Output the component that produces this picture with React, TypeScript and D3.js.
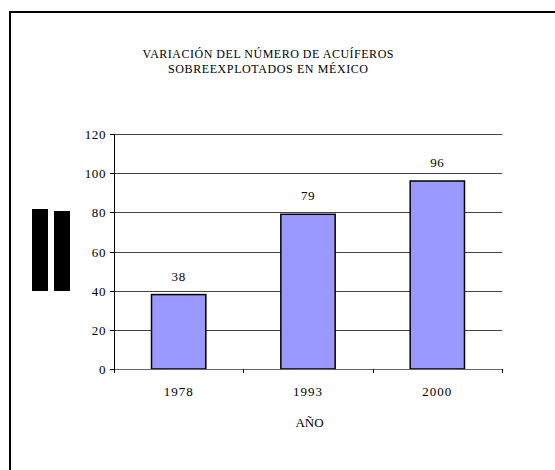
import React from "react";
import * as d3 from "d3";

const categories = ["1978", "1993", "2000"];
const values = [38, 79, 96];
const yTicks = [0, 20, 40, 60, 80, 100, 120];
const titleLines = ["VARIACIÓN DEL NÚMERO DE ACUÍFEROS", "SOBREEXPLOTADOS EN MÉXICO"];
const xTitle = "AÑO";

export default function App() {
  const W = 555, H = 470;
  const left = 114, right = 502, top = 134, bottom = 369;
  const x = d3.scaleBand().domain(categories).range([left, right]).paddingInner(0.58).paddingOuter(0.29);
  const xb = d3.scaleBand().domain(categories).range([left, right]);
  const y = d3.scaleLinear().domain([0, 120]).range([bottom, top]);
  const font = "'Liberation Serif', 'Times New Roman', 'DejaVu Serif', serif";
  const ts = { fontFamily: font, fontWeight: 400 } as React.CSSProperties;
  const titleLens = [251, 200];
  return (
    <div style={{ position: "fixed", left: 0, top: 0 }}>
      <svg width={W} height={H} style={{ display: "block" }}>
        <rect x={0} y={0} width={W} height={H} fill="#fff" />
        <rect x={10} y={12} width={W + 20} height={H + 20} fill="none" stroke="#000" strokeWidth={2} />
        {titleLines.map((t, i) => (
          <text key={i} x={268} y={58 + i * 14.5} textAnchor="middle" style={ts} fontSize={12} fill="#000"
            textLength={titleLens[i]} lengthAdjust="spacing">{t}</text>
        ))}
        {yTicks.filter(v => v > 0).map(v => (
          <line key={v} x1={left} x2={right} y1={Math.round(y(v)) + 0.5} y2={Math.round(y(v)) + 0.5} stroke="#444" strokeWidth={1} />
        ))}
        {yTicks.map(v => (
          <g key={"t" + v}>
            <line x1={left - 4} x2={left} y1={Math.round(y(v)) + 0.5} y2={Math.round(y(v)) + 0.5} stroke="#000" />
            <text x={left - 8} y={y(v) + 5} textAnchor="end" style={ts} fontSize={13} letterSpacing={0.6} fill="#000">{v}</text>
          </g>
        ))}
        {categories.map((c, i) => (
          <g key={c}>
            <rect x={x(c)} y={y(values[i])} width={x.bandwidth()} height={bottom - y(values[i])} fill="#9999FF" stroke="#000" strokeWidth={1.5} />
            <text x={x(c)! + x.bandwidth() / 2} y={y(values[i]) - 14} textAnchor="middle" style={ts} fontSize={13} letterSpacing={0.6} fill="#000">{values[i]}</text>
            <text x={xb(c)! + xb.bandwidth() / 2} y={396} textAnchor="middle" style={ts} fontSize={13} letterSpacing={1} fill="#000">{c}</text>
          </g>
        ))}
        <line x1={left} x2={right} y1={bottom + 0.5} y2={bottom + 0.5} stroke="#666" />
        {categories.concat([""]).map((c, i) => {
          const xx = Math.round(left + i * xb.step()) + 0.5;
          return <line key={"xt" + i} x1={xx} x2={xx} y1={bottom} y2={bottom + 4} stroke="#000" />;
        })}
        <line x1={left + 0.5} x2={left + 0.5} y1={top} y2={bottom + 1} stroke="#000" />
        <text x={309.5} y={426.5} textAnchor="middle" style={ts} fontSize={13} fill="#000">{xTitle}</text>
        <rect x={32} y={209} width={16} height={82} fill="#000" />
        <rect x={54} y={211} width={16} height={80} fill="#000" />
      </svg>
    </div>
  );
}
